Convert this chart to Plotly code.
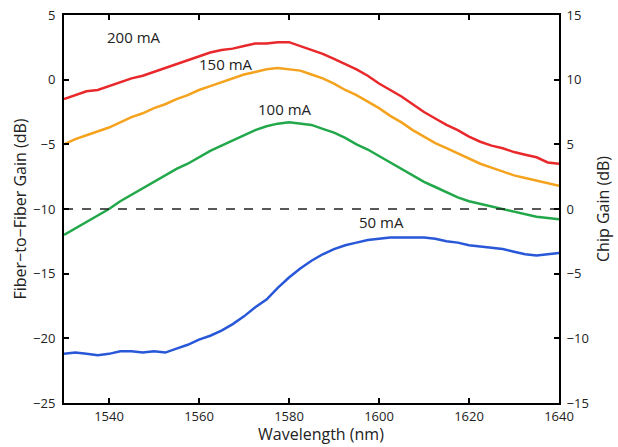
import plotly.graph_objects as go

wavelength = [1530, 1532.5, 1535, 1537.5, 1540, 1542.5, 1545, 1547.5, 1550, 1552.5, 1555, 1557.5,
              1560, 1562.5, 1565, 1567.5, 1570, 1572.5, 1575, 1577.5, 1580, 1582.5, 1585, 1587.5,
              1590, 1592.5, 1595, 1597.5, 1600, 1602.5, 1605, 1607.5, 1610, 1612.5, 1615, 1617.5,
              1620, 1622.5, 1625, 1627.5, 1630, 1632.5, 1635, 1637.5, 1640]

gain_200mA = [-1.5, -1.2, -0.9, -0.8, -0.5, -0.2, 0.1, 0.3, 0.6, 0.9, 1.2, 1.5,
              1.8, 2.1, 2.3, 2.4, 2.6, 2.8, 2.8, 2.9, 2.9, 2.6, 2.3, 2.0,
              1.6, 1.2, 0.8, 0.3, -0.3, -0.8, -1.3, -1.9, -2.5, -3.0, -3.5, -3.9,
              -4.4, -4.8, -5.1, -5.3, -5.6, -5.8, -6.0, -6.4, -6.5]

gain_150mA = [-5.0, -4.6, -4.3, -4.0, -3.7, -3.3, -2.9, -2.6, -2.2, -1.9, -1.5, -1.2,
              -0.8, -0.5, -0.2, 0.1, 0.4, 0.6, 0.8, 0.9, 0.8, 0.7, 0.4, 0.1,
              -0.3, -0.8, -1.2, -1.7, -2.2, -2.8, -3.3, -3.9, -4.4, -4.9, -5.3, -5.7,
              -6.1, -6.5, -6.8, -7.1, -7.4, -7.6, -7.8, -8.0, -8.2]

gain_100mA = [-12.0, -11.5, -11.0, -10.5, -10.0, -9.4, -8.9, -8.4, -7.9, -7.4, -6.9, -6.5,
              -6.0, -5.5, -5.1, -4.7, -4.3, -3.9, -3.6, -3.4, -3.3, -3.4, -3.5, -3.8,
              -4.1, -4.5, -5.0, -5.4, -5.9, -6.4, -6.9, -7.4, -7.9, -8.3, -8.7, -9.1,
              -9.4, -9.6, -9.8, -10.0, -10.2, -10.4, -10.6, -10.7, -10.8]

gain_50mA = [-21.2, -21.1, -21.2, -21.3, -21.2, -21.0, -21.0, -21.1, -21.0, -21.1, -20.8, -20.5,
             -20.1, -19.8, -19.4, -18.9, -18.3, -17.6, -17.0, -16.1, -15.3, -14.6, -14.0, -13.5,
             -13.1, -12.8, -12.6, -12.4, -12.3, -12.2, -12.2, -12.2, -12.2, -12.3, -12.5, -12.6,
             -12.8, -12.9, -13.0, -13.1, -13.3, -13.5, -13.6, -13.5, -13.4]

reference_x = [1530, 1640]
reference_y = [-10, -10]

series_names = ["200 mA", "150 mA", "100 mA", "50 mA"]
label_x = [1545.5, 1566, 1579, 1600.5]
label_y = [3.3, 1.2, -2.3, -11.0]

colors = ["#e8282b", "#f5a31e", "#22a84a", "#2857d8"]
series = [gain_200mA, gain_150mA, gain_100mA, gain_50mA]

font_family = "Open Sans, Liberation Sans, sans-serif"

fig = go.Figure()
for name, vals, col in zip(series_names, series, colors):
    fig.add_trace(go.Scatter(x=wavelength, y=vals, mode="lines", name=name,
                             line=dict(color=col, width=2.5), showlegend=False))

fig.add_trace(go.Scatter(x=reference_x, y=reference_y, mode="lines",
                         line=dict(color="#222222", width=1.6, dash="dash"), showlegend=False))

# invisible trace to activate right axis
fig.add_trace(go.Scatter(x=reference_x, y=[0, 0], yaxis="y2", mode="lines",
                         line=dict(width=0), hoverinfo="skip", showlegend=False))

for name, lx, ly in zip(series_names, label_x, label_y):
    fig.add_annotation(x=lx, y=ly, text=name, showarrow=False,
                       font=dict(family=font_family, size=15, color="#222222"))

# x-axis title placed at the very bottom, below the tick labels
fig.add_annotation(x=0.52, y=0, xref="paper", yref="paper", yanchor="bottom", yshift=-44,
                   text="Wavelength (nm)", showarrow=False,
                   font=dict(family=font_family, size=16, color="#222222"))

axis_common = dict(showline=True, linecolor="black", linewidth=2, ticks="inside",
                   ticklen=5, tickwidth=1.5, tickcolor="black", showgrid=False, zeroline=False,
                   automargin=False,
                   tickfont=dict(family=font_family, size=13, color="#222222"))

fig.update_layout(
    width=618, height=447,
    margin=dict(l=64, r=59, t=15, b=44),
    plot_bgcolor="white", paper_bgcolor="white",
    xaxis=dict(range=[1530, 1640], tickvals=[1540, 1560, 1580, 1600, 1620, 1640],
               mirror="ticks", ticklabelstandoff=0,
               **axis_common),
    yaxis=dict(range=[-25, 5], dtick=5, mirror=True, ticklabelstandoff=4,
               title=dict(text="Fiber\u2212to\u2212Fiber Gain (dB)", standoff=2,
                          font=dict(family=font_family, size=16, color="#222222")),
               **axis_common),
    yaxis2=dict(range=[-15, 15], dtick=5, overlaying="y", side="right", ticklabelstandoff=3,
                title=dict(text="Chip Gain (dB)", standoff=10,
                           font=dict(family=font_family, size=16, color="#222222")),
                **axis_common),
)

fig.write_html("out.html")
